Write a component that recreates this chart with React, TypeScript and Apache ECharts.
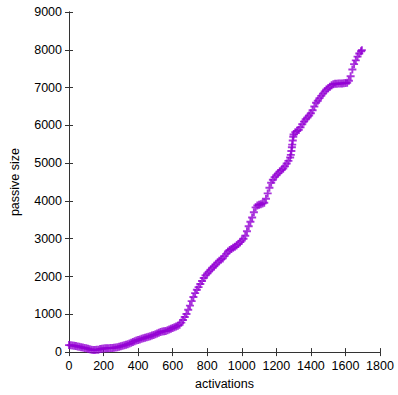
import React, { useEffect, useRef } from "react";
import * as echarts from "echarts";

const activations: number[] = [
  0, 10, 20, 30, 40, 50, 60, 70, 80, 90, 100, 110, 120, 130, 140, 150, 160, 170, 180, 190,
  200, 210, 220, 230, 240, 250, 260, 270, 280, 290, 300, 310, 320, 330, 340, 350, 360, 370, 380, 390,
  400, 410, 420, 430, 440, 450, 460, 470, 480, 490, 500, 510, 520, 530, 540, 550, 560, 570, 580, 590,
  600, 610, 620, 630, 640, 650, 660, 670, 680, 690, 700, 710, 720, 730, 740, 750, 760, 770, 780, 790,
  800, 810, 820, 830, 840, 850, 860, 870, 880, 890, 900, 910, 920, 930, 940, 950, 960, 970, 980, 990,
  1000, 1010, 1020, 1030, 1040, 1050, 1060, 1070, 1080, 1090, 1100, 1110, 1120, 1130, 1140, 1150, 1160, 1170, 1180, 1190,
  1200, 1210, 1220, 1230, 1240, 1250, 1260, 1270, 1280, 1284, 1287, 1290, 1292, 1295, 1298, 1300, 1310, 1320, 1330, 1340,
  1350, 1360, 1370, 1380, 1390,
  1400, 1410, 1420, 1430, 1440, 1450, 1460, 1470, 1480, 1490, 1500, 1510, 1520, 1530, 1540, 1550, 1560, 1570, 1580, 1590,
  1600, 1610, 1620, 1630, 1640, 1650, 1660, 1670, 1680, 1690, 1695,
];

const passiveSize: number[] = [
  185, 180, 175, 170, 160, 150, 140, 130, 120, 110, 100, 90, 75, 60, 55, 55, 60, 65, 80, 90,
  95, 100, 100, 105, 110, 110, 115, 120, 130, 140, 155, 165, 180, 195, 210, 225, 245, 270, 290, 305,
  320, 335, 350, 365, 380, 395, 405, 420, 440, 455, 470, 490, 510, 530, 545, 555, 560, 575, 600, 620,
  640, 660, 680, 700, 725, 780, 850, 930, 1010, 1120, 1230, 1350, 1460, 1560, 1650, 1720, 1800, 1880, 1960, 2030,
  2080, 2130, 2180, 2230, 2270, 2320, 2370, 2420, 2450, 2480, 2540, 2600, 2660, 2700, 2730, 2760, 2790, 2820, 2860, 2910,
  2950, 3000, 3080, 3200, 3330, 3450, 3560, 3700, 3830, 3880, 3900, 3910, 3930, 3950, 4060, 4200, 4350, 4480, 4560, 4630,
  4680, 4730, 4780, 4820, 4860, 4920, 4990, 5060, 5150, 5220, 5320, 5420, 5490, 5600, 5700, 5760, 5820, 5850, 5880, 5950,
  6030, 6100, 6160, 6210, 6260,
  6320, 6400, 6500, 6600, 6650, 6720, 6780, 6840, 6900, 6950, 6980, 7020, 7060, 7090, 7100, 7100, 7105, 7110, 7110, 7115,
  7120, 7130, 7180, 7300, 7480, 7620, 7720, 7820, 7900, 7960, 7990,
];

const xTicks = { min: 0, max: 1800, interval: 200 };
const yTicks = { min: 0, max: 9000, interval: 1000 };

const PLUS = "path://M3.8,0H6.2V3.8H10V6.2H6.2V10H3.8V6.2H0V3.8H3.8Z";

export default function App() {
  const ref = useRef<HTMLDivElement>(null);
  useEffect(() => {
    if (!ref.current) return;
    const chart = echarts.init(ref.current, undefined, { renderer: "svg" });
    const font = "'Liberation Sans', Arial, Helvetica, sans-serif";
    const lineStyle = { color: "#333", width: 1 };
    const tick = { show: true, inside: true, length: 4, lineStyle };
    const plain = (v: number) => String(v);
    const data = activations.map((a, i) => [a, passiveSize[i]]);
    chart.setOption({
      animation: false,
      backgroundColor: "#fff",
      grid: { left: 67, width: 313, top: 12, height: 345, containLabel: false },
      xAxis: [
        {
          type: "value",
          ...xTicks,
          position: "bottom",
          name: "activations",
          nameLocation: "middle",
          nameGap: 24,
          nameTextStyle: { fontFamily: font, fontSize: 12.5, color: "#000" },
          axisLine: { show: true, lineStyle },
          axisTick: tick,
          axisLabel: { margin: 7, fontFamily: font, fontSize: 12.5, color: "#000", formatter: plain },
          splitLine: { show: false },
        },
        {
          type: "value",
          ...xTicks,
          position: "top",
          axisLine: { show: true, lineStyle },
          axisTick: tick,
          axisLabel: { show: false },
          splitLine: { show: false },
        },
      ],
      yAxis: [
        {
          type: "value",
          ...yTicks,
          position: "left",
          name: "passive size",
          nameLocation: "middle",
          nameGap: 48,
          nameTextStyle: { fontFamily: font, fontSize: 12.5, color: "#000" },
          axisLine: { show: true, lineStyle },
          axisTick: tick,
          axisLabel: { margin: 7, fontFamily: font, fontSize: 12.5, color: "#000", formatter: plain },
          splitLine: { show: false },
        },
        {
          type: "value",
          ...yTicks,
          position: "right",
          axisLine: { show: true, lineStyle },
          axisTick: tick,
          axisLabel: { show: false },
          splitLine: { show: false },
        },
      ],
      series: [
        {
          type: "scatter",
          data,
          symbol: PLUS,
          symbolSize: 8,
          itemStyle: { color: "#9400D3" },
        },
      ],
    });
    return () => chart.dispose();
  }, []);
  return (
    <div
      ref={ref}
      style={{ position: "fixed", left: 0, top: 0, width: 398, height: 395 }}
    />
  );
}
